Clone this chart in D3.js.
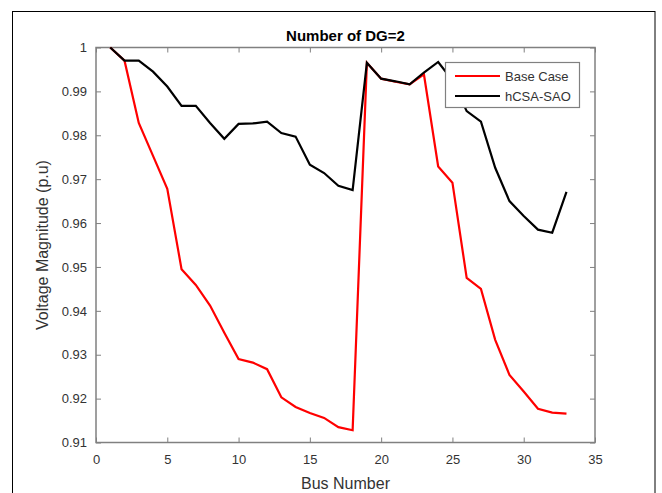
<!DOCTYPE html>
<html><head><meta charset="utf-8">
<script src="https://cdn.jsdelivr.net/npm/d3@7"></script>
<style>body{margin:0;background:#fff}svg{display:block}</style>
</head><body>
<script>
const buses = d3.range(1, 34);
const baseCase = [1.0000,0.9970,0.9828,0.9753,0.9678,0.9495,0.9459,0.9412,0.9350,0.9290,0.9282,0.9267,0.9203,0.9181,0.9167,0.9156,0.9135,0.9128,
  0.9965,0.9929,0.9922,0.9916,0.9939,0.9729,0.9692,0.9475,0.9450,0.9334,0.9254,0.9216,0.9177,0.9168,0.9166];
const hcsaSao = [1.0000,0.9970,0.9970,0.9945,0.9911,0.9867,0.9867,0.9828,0.9792,0.9826,0.9827,0.9831,0.9805,0.9797,0.9733,0.9714,0.9685,0.9675,
  0.9965,0.9929,0.9923,0.9916,0.9943,0.9967,0.9925,0.9855,0.9831,0.9726,0.9650,0.9616,0.9585,0.9578,0.9671];
const seriesNames = ["Base Case", "hCSA-SAO"];
const seriesColors = ["#ff0000", "#000000"];
const xTicks = [0,5,10,15,20,25,30,35];
const yTicks = [0.91,0.92,0.93,0.94,0.95,0.96,0.97,0.98,0.99,1];

const W = 662, H = 493;
const m = {l: 96, r: 595, t: 47.5, b: 442.5};
const svg = d3.select("body").append("svg").attr("width", W).attr("height", H);
const font = "'Liberation Sans', Arial, sans-serif";

svg.append("rect").attr("x", 12.5).attr("y", 11.5).attr("width", 642.5).attr("height", 500)
  .attr("fill", "none").attr("stroke", "#000").attr("stroke-width", 1);

const x = d3.scaleLinear().domain([0, 35]).range([m.l, m.r]);
const y = d3.scaleLinear().domain([0.91, 1]).range([m.b, m.t]);

const axCol = "#808080", txtCol = "#333333";
function styleAxis(g, showText) {
  g.select(".domain").remove();
  g.selectAll(".tick line").attr("stroke", axCol).attr("stroke-width", 1);
  g.selectAll(".tick text").attr("fill", txtCol).style("font-family", font).style("font-size", "13px");
  if (!showText) g.selectAll(".tick text").remove();
}
const tl = 5;
svg.append("g").attr("transform", `translate(0,${m.b})`)
  .call(d3.axisBottom(x).tickValues(xTicks).tickSize(-tl).tickPadding(12).tickFormat(d3.format("d")))
  .call(g => styleAxis(g, true));
svg.append("g").attr("transform", `translate(0,${m.t})`)
  .call(d3.axisTop(x).tickValues(xTicks).tickSize(-tl)).call(g => styleAxis(g, false));
svg.append("g").attr("transform", `translate(${m.l},0)`)
  .call(d3.axisLeft(y).tickValues(yTicks).tickSize(-tl).tickPadding(9).tickFormat(d => d === 1 ? "1" : d3.format(".2f")(d)))
  .call(g => styleAxis(g, true));
svg.append("g").attr("transform", `translate(${m.r},0)`)
  .call(d3.axisRight(y).tickValues(yTicks).tickSize(-tl)).call(g => styleAxis(g, false));

svg.append("rect").attr("x", m.l).attr("y", m.t).attr("width", m.r - m.l).attr("height", m.b - m.t)
  .attr("fill", "none").attr("stroke", axCol).attr("stroke-width", 1.5);

const line = d3.line().x((d, i) => x(buses[i])).y(d => y(d));
[baseCase, hcsaSao].forEach((s, k) => {
  svg.append("path").datum(s).attr("d", line).attr("fill", "none")
    .attr("stroke", seriesColors[k]).attr("stroke-width", 2.2).attr("stroke-linejoin", "miter");
});

svg.append("text").attr("x", (m.l + m.r) / 2).attr("y", 41).attr("text-anchor", "middle")
  .style("font-family", font).style("font-size", "15px").style("font-weight", "bold").attr("fill", "#000")
  .text("Number of DG=2");
svg.append("text").attr("x", (m.l + m.r) / 2).attr("y", 489).attr("text-anchor", "middle")
  .style("font-family", font).style("font-size", "16px").attr("fill", txtCol).text("Bus Number");
svg.append("text").attr("transform", `translate(48,${(m.t + m.b) / 2}) rotate(-90)`).attr("text-anchor", "middle")
  .style("font-family", font).style("font-size", "16px").attr("fill", txtCol).text("Voltage Magnitude (p.u)");

// legend
const lg = svg.append("g");
lg.append("rect").attr("x", 445.5).attr("y", 62.5).attr("width", 134).attr("height", 45)
  .attr("fill", "#fff").attr("stroke", "#808080").attr("stroke-width", 1.2);
seriesNames.forEach((n, k) => {
  const yy = 76 + k * 20;
  lg.append("line").attr("x1", 455).attr("x2", 500).attr("y1", yy).attr("y2", yy)
    .attr("stroke", seriesColors[k]).attr("stroke-width", 2.2);
  lg.append("text").attr("x", 505).attr("y", yy + 4.5).style("font-family", font).style("font-size", "13px")
    .attr("fill", txtCol).text(n);
});
</script>
</body></html>
